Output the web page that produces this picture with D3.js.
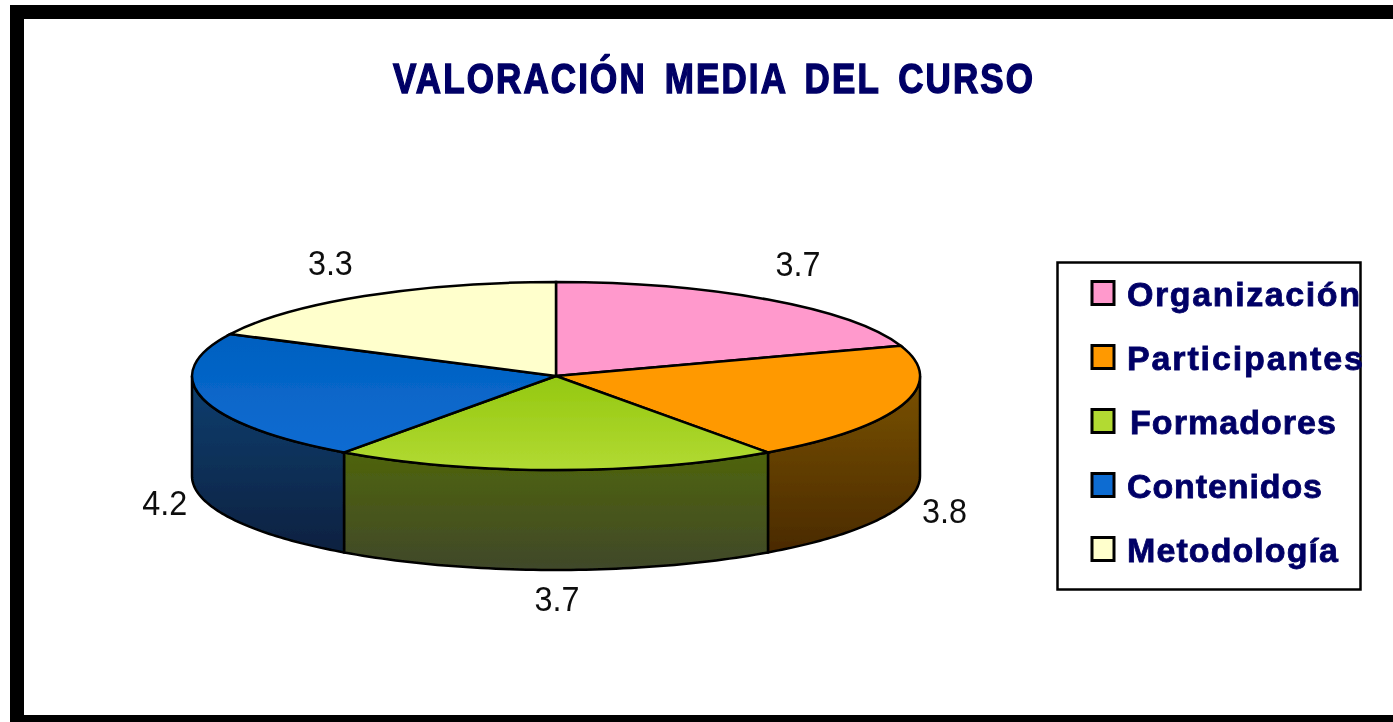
<!DOCTYPE html>
<html>
<head>
<meta charset="utf-8">
<script src="https://cdn.jsdelivr.net/npm/d3@7"></script>
<style>
body { margin: 0; background: #fff; overflow: hidden; }
</style>
</head>
<body>
<div id="chart"></div>
<script>
var categories = ["Organización", "Participantes", "Formadores", "Contenidos", "Metodología"];
var values = [3.7, 3.8, 3.7, 4.2, 3.3];
var valueLabels = ["3.7", "3.8", "3.7", "4.2", "3.3"];
var topStart = ["#ff99cc", "#ff9900", "#94c810", "#0060c0", "#ffffcc"];
var topEnd = ["#ff99cc", "#ff9900", "#b2da33", "#0f6cd2", "#ffffcc"];
var wallTop = ["#7a5a78", "#7a5200", "#4f640c", "#0d3f70", "#777760"];
var wallBottom = ["#4a3048", "#4a2a00", "#40482a", "#0a2140", "#444430"];
var titleText = "VALORACIÓN MEDIA DEL CURSO";

var svg = d3.select("#chart").append("svg")
    .attr("width", 1393)
    .attr("height", 722);

var defs = svg.append("defs");
defs.append("filter").attr("id", "soft")
    .attr("x", 0).attr("y", 0).attr("width", 1).attr("height", 1)
    .append("feGaussianBlur").attr("stdDeviation", 0.6);

var page = svg.append("g").attr("filter", "url(#soft)");

// frame, runs off the right and bottom of the picture
page.append("rect").attr("width", 1393).attr("height", 722).attr("fill", "#fff");
page.append("rect").attr("x", 17).attr("y", 12).attr("width", 1400).attr("height", 710)
    .attr("fill", "#fff").attr("stroke", "#000").attr("stroke-width", 14);

// stretched upward, the original lettering is tall and widely spaced
page.append("text")
    .attr("transform", "translate(713,93) scale(1,1.2)")
    .attr("text-anchor", "middle")
    .attr("font-family", "Liberation Sans")
    .attr("font-weight", "bold")
    .attr("font-size", 35)
    .attr("word-spacing", 6)
    .attr("textLength", 640)
    .attr("lengthAdjust", "spacing")
    .attr("fill", "#000066")
    .attr("stroke", "#000066")
    .attr("stroke-width", 1.2)
    .text(titleText);

// pie ellipse
var cx = 556, cy = 376, rx = 364, ry = 94, depth = 100;

var pie = d3.pie().sort(null).value(function(d) { return d; });
var arcs = pie(values);

var px = function(a) { return cx + rx * Math.sin(a); };
var py = function(a) { return cy - ry * Math.cos(a); };

values.forEach(function(d, i) {
    var g = defs.append("linearGradient").attr("id", "wall" + i)
        .attr("x1", 0).attr("y1", 0).attr("x2", 0).attr("y2", 1);
    g.append("stop").attr("offset", "0%").attr("stop-color", wallTop[i]);
    g.append("stop").attr("offset", "100%").attr("stop-color", wallBottom[i]);

    var t = defs.append("linearGradient").attr("id", "face" + i)
        .attr("x1", 0).attr("y1", 0).attr("x2", 0).attr("y2", 1);
    t.append("stop").attr("offset", "0%").attr("stop-color", topStart[i]);
    t.append("stop").attr("offset", "100%").attr("stop-color", topEnd[i]);
});

// walls: only the front half of the ellipse shows
var wallLine = d3.line();
var walls = page.append("g");
arcs.forEach(function(d, i) {
    var a0 = Math.max(d.startAngle, Math.PI / 2);
    var a1 = Math.min(d.endAngle, Math.PI * 3 / 2);
    if (a1 <= a0) return;
    var upper = d3.range(0, 61).map(function(k) {
        var a = a0 + (a1 - a0) * k / 60;
        return [px(a), py(a)];
    });
    var lower = upper.slice().reverse().map(function(p) { return [p[0], p[1] + depth]; });
    walls.append("path")
        .attr("d", wallLine(upper.concat(lower)) + "Z")
        .attr("fill", "url(#wall" + i + ")")
        .attr("stroke", "#000")
        .attr("stroke-width", 2.5);
});

// top face: unit circle arcs squashed into the ellipse
var arc = d3.arc().innerRadius(0).outerRadius(1);
page.append("g")
    .attr("transform", "translate(" + cx + "," + cy + ") scale(" + rx + "," + ry + ")")
    .selectAll("path")
    .data(arcs)
    .enter().append("path")
    .attr("d", arc)
    .attr("fill", function(d, i) { return "url(#face" + i + ")"; })
    .attr("stroke", "#000")
    .attr("stroke-width", 2.5)
    .attr("vector-effect", "non-scaling-stroke");

// value labels hang off the middle of each slice's outer edge
var labelNudgeX = [30, 42, 1, -38, -34];
var labelNudgeY = [-36, 106, 129, 104, -33];
var midAngle = function(d) { return (d.startAngle + d.endAngle) / 2; };
page.append("g").selectAll("text")
    .data(arcs)
    .enter().append("text")
    .attr("x", function(d, i) { return px(midAngle(d)) + labelNudgeX[i]; })
    .attr("y", function(d, i) { return py(midAngle(d)) + labelNudgeY[i]; })
    .attr("dy", "0.35em")
    .attr("text-anchor", "middle")
    .attr("font-family", "Liberation Sans")
    .attr("font-size", 35)
    .attr("textLength", 45)
    .attr("lengthAdjust", "spacingAndGlyphs")
    .attr("fill", "#111")
    .text(function(d, i) { return valueLabels[i]; });

// legend
var legend = page.append("g");
legend.append("rect")
    .attr("x", 1057.5).attr("y", 262.5).attr("width", 303).attr("height", 327)
    .attr("fill", "#fff").attr("stroke", "#000").attr("stroke-width", 2.5);

var legendY = d3.scalePoint().domain(categories).range([293, 549]);

var rows = legend.selectAll(".row")
    .data(categories)
    .enter().append("g")
    .attr("class", "row")
    .attr("transform", function(d) { return "translate(0," + legendY(d) + ")"; });

rows.append("rect")
    .attr("x", 1092).attr("y", -11.5).attr("width", 22).attr("height", 23)
    .attr("fill", function(d, i) { return topEnd[i]; })
    .attr("stroke", "#000")
    .attr("stroke-width", 3);

rows.append("text")
    .attr("x", function(d, i) { return i == 2 ? 1130 : 1127; })
    .attr("y", 13)
    .attr("font-family", "Liberation Sans")
    .attr("font-weight", "bold")
    .attr("font-size", 34)
    .attr("textLength", function(d, i) { return [233, 236, 206, 195, 211][i]; })
    .attr("lengthAdjust", "spacing")
    .attr("fill", "#000066")
    .attr("stroke", "#000066")
    .attr("stroke-width", 0.8)
    .text(function(d) { return d; });
</script>
</body>
</html>
